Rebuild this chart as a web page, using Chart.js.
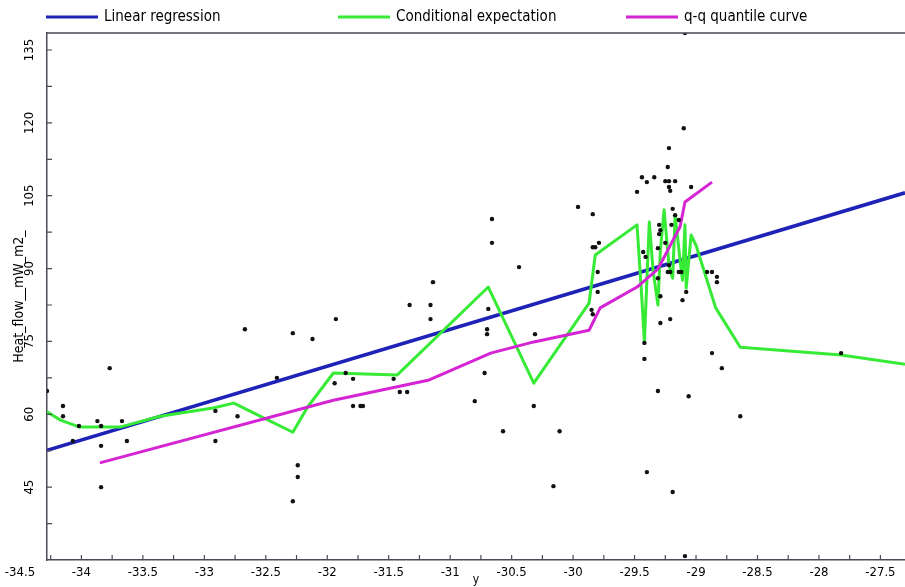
<!DOCTYPE html>
<html>
<head>
<meta charset="utf-8">
<script src="https://cdn.jsdelivr.net/npm/chart.js@4/dist/chart.umd.min.js"></script>
<style>
  html, body { margin: 0; padding: 0; background: #fff; }
  #wrap { width: 905px; height: 587px; position: relative; }
</style>
</head>
<body>
<div id="wrap"><canvas id="grafico"></canvas></div>
<script>
// tick labels
const xTickLabels = [-34.5, -34, -33.5, -33, -32.5, -32, -31.5, -31, -30.5, -30, -29.5, -29, -28.5, -28, -27.5];
const yTickLabels = [45, 60, 75, 90, 105, 120, 135];

// linear regression (end points)
const regX = [-34.28, -27.30];
const regY = [52.6, 105.6];

// conditional expectation
const condX = [-34.28, -34.17, -34.02, -33.68, -33.36, -32.93, -32.76, -32.53, -32.28, -32.16,
  -31.95, -31.43, -30.69, -30.32, -29.87, -29.82, -29.48, -29.44, -29.42, -29.39,
  -29.38, -29.35, -29.31, -29.29, -29.26, -29.22, -29.19, -29.17, -29.13, -29.11,
  -29.09, -29.08, -29.04, -29.00, -28.84, -28.64, -27.82, -27.30];
const condY = [60.5, 58.8, 57.4, 57.4, 59.6, 61.3, 62.3, 59.4, 56.3, 61.5,
  68.5, 68.1, 86.2, 66.4, 82.9, 92.8, 99.0, 83.5, 74.9, 93.8,
  99.6, 89.7, 82.5, 93.8, 102.1, 90.7, 88.0, 101.0, 91.8, 87.6,
  99.0, 86.0, 96.9, 94.8, 81.9, 73.8, 72.2, 70.3];

// q-q quantile curve
const qqX = [-33.85, -31.95, -31.18, -30.67, -30.32, -29.87, -29.78, -29.48, -29.31, -29.23, -29.13, -29.09, -28.87];
const qqY = [50.0, 62.9, 67.0, 72.6, 74.9, 77.3, 81.9, 86.2, 89.9, 93.8, 98.6, 103.7, 107.8];

// observations
const pointsX = [-34.28, -34.15, -34.15, -34.02, -34.07, -33.87, -33.84, -33.84, -33.84, -33.77,
  -33.67, -33.63, -32.91, -32.91, -32.73, -32.67, -32.41, -32.28, -32.24, -32.24,
  -32.28, -32.12, -31.93, -31.94, -31.85, -31.79, -31.79, -31.73, -31.71, -31.46,
  -31.41, -31.35, -31.33, -31.16, -31.16, -31.14, -30.80, -30.72, -30.69, -30.70,
  -30.70, -30.66, -30.66, -30.57, -30.44, -30.32, -30.31, -30.16, -30.11, -29.96,
  -29.84, -29.84, -29.82, -29.79, -29.80, -29.80, -29.85, -29.84, -29.10, -29.22,
  -29.23, -29.44, -29.40, -29.34, -29.25, -29.22, -29.17, -29.22, -29.21, -29.48,
  -29.04, -29.30, -29.29, -29.30, -29.19, -29.17, -29.14, -29.20, -29.25, -29.43,
  -29.41, -29.22, -29.23, -29.21, -29.14, -29.12, -29.08, -29.11, -29.29, -28.91,
  -28.87, -28.83, -28.83, -29.29, -29.21, -29.42, -29.42, -28.87, -28.79, -29.31,
  -29.06, -28.64, -29.40, -29.19, -27.82, -29.31, -29.31, -29.09, -29.09];
const pointsY = [64.8, 61.7, 59.6, 57.6, 54.5, 58.6, 57.6, 53.5, 45.0, 69.5,
  58.6, 54.5, 60.7, 54.5, 59.6, 77.5, 67.5, 76.7, 49.5, 47.1,
  42.1, 75.5, 79.6, 66.4, 68.5, 67.3, 61.7, 61.7, 61.7, 67.3,
  64.6, 64.6, 82.5, 82.5, 79.6, 87.2, 62.7, 68.5, 81.7, 77.5,
  76.5, 100.2, 95.3, 56.5, 90.3, 61.7, 76.5, 45.2, 56.5, 102.7,
  101.2, 94.4, 94.4, 95.3, 89.3, 85.2, 81.5, 80.6, 118.9, 114.8,
  110.9, 108.8, 107.8, 108.8, 108.0, 108.0, 108.0, 106.8, 106.0, 105.8,
  106.8, 99.0, 97.9, 97.1, 102.3, 101.0, 100.0, 99.0, 95.3, 93.4,
  92.4, 90.7, 89.3, 89.3, 89.3, 89.3, 85.2, 83.5, 84.3, 89.3,
  89.3, 88.3, 87.2, 78.8, 79.6, 74.7, 71.4, 72.6, 69.5, 64.8,
  63.7, 59.6, 48.1, 44.0, 72.6, 94.2, 88.0, 138.5, 30.8];

const fonte = "'Liberation Sans Narrow', 'DejaVu Sans Condensed', 'Arial Narrow', sans-serif";
const corEixo = '#4a4a58';

function pares(xs, ys) {
    return xs.map((x, i) => ({ x: x, y: ys[i] }));
}

// majors plus the half steps in between (and one past each end)
function comMenores(majors) {
    const passo = majors[1] - majors[0];
    const out = [majors[0] - passo / 2];
    majors.forEach((v, i) => {
        out.push(v);
        out.push(i < majors.length - 1 ? (v + majors[i + 1]) / 2 : v + passo / 2);
    });
    return out;
}

const extras = {
    id: 'extras',
    afterDraw(chart) {
        const { ctx, chartArea: a, scales: { x, y } } = chart;
        ctx.save();

        // top frame line
        ctx.strokeStyle = corEixo;
        ctx.lineWidth = 1.5;
        ctx.beginPath();
        ctx.moveTo(a.left, a.top);
        ctx.lineTo(a.right, a.top);
        ctx.stroke();

        // inward tick marks
        ctx.lineWidth = 1.2;
        ctx.beginPath();
        comMenores(xTickLabels).forEach(v => {
            const px = x.getPixelForValue(v);
            if (px < a.left + 1 || px > a.right) return;
            ctx.moveTo(px, a.bottom);
            ctx.lineTo(px, a.bottom - 5);
        });
        comMenores(yTickLabels).forEach(v => {
            const py = y.getPixelForValue(v);
            if (py < a.top || py > a.bottom - 1) return;
            ctx.moveTo(a.left, py);
            ctx.lineTo(a.left + 5, py);
        });
        ctx.stroke();

        // rotated y tick labels
        ctx.fillStyle = '#000';
        ctx.font = '13px ' + fonte;
        ctx.textAlign = 'center';
        ctx.textBaseline = 'middle';
        yTickLabels.forEach(v => {
            const py = y.getPixelForValue(v);
            ctx.save();
            ctx.translate(a.left - 17, py);
            ctx.rotate(-Math.PI / 2);
            ctx.fillText(String(v), 0, 0);
            ctx.restore();
        });

        // legend row
        const inicio = [46, 338, 626];
        ctx.font = '15px ' + fonte;
        ctx.textAlign = 'left';
        chart.data.datasets.filter(d => d.showLine).forEach((d, i) => {
            const x0 = inicio[i];
            ctx.strokeStyle = d.borderColor;
            ctx.lineWidth = 3;
            ctx.beginPath();
            ctx.moveTo(x0, 17);
            ctx.lineTo(x0 + 52, 17);
            ctx.stroke();
            ctx.fillText(d.label, x0 + 58, 17);
        });

        ctx.restore();
    }
};

function montarGrafico() {
    const ctx = document.getElementById('grafico').getContext('2d');
    new Chart(ctx, {
        type: 'scatter',
        data: {
            datasets: [
                {
                    label: 'Linear regression',
                    data: pares(regX, regY),
                    showLine: true,
                    borderColor: '#1f22b6',
                    borderWidth: 3.5,
                    pointRadius: 0,
                    order: 3
                },
                {
                    label: 'Conditional expectation',
                    data: pares(condX, condY),
                    showLine: true,
                    borderColor: '#36ea36',
                    borderWidth: 3,
                    borderJoinStyle: 'round',
                    pointRadius: 0,
                    order: 2
                },
                {
                    label: 'q-q quantile curve',
                    data: pares(qqX, qqY),
                    showLine: true,
                    borderColor: '#d424d4',
                    borderWidth: 3,
                    borderJoinStyle: 'round',
                    pointRadius: 0,
                    order: 1
                },
                {
                    label: 'Heat_flow__mW_m2_',
                    data: pares(pointsX, pointsY),
                    showLine: false,
                    backgroundColor: '#111',
                    borderWidth: 0,
                    pointRadius: 2.2,
                    order: 0
                }
            ]
        },
        options: {
            responsive: true,
            maintainAspectRatio: false,
            animation: false,
            layout: { padding: { top: 33, left: 0, right: 0, bottom: 0 }, autoPadding: false },
            plugins: {
                legend: { display: false },
                tooltip: { enabled: false }
            },
            scales: {
                x: {
                    type: 'linear',
                    min: -34.28,
                    max: -27.30,
                    grid: { display: false, drawTicks: false },
                    border: { display: true, color: corEixo, width: 1.5 },
                    afterBuildTicks: scale => {
                        scale.ticks = xTickLabels.map(v => ({ value: v }));
                    },
                    afterFit: scale => { scale.height = 27; },
                    ticks: {
                        autoSkip: false,
                        maxRotation: 0,
                        padding: 5,
                        color: '#000',
                        font: { family: fonte, size: 13 },
                        callback: v => String(v)
                    },
                    title: {
                        display: true,
                        text: 'y',
                        color: '#000',
                        padding: 0,
                        font: { family: fonte, size: 12 }
                    }
                },
                y: {
                    type: 'linear',
                    min: 30,
                    max: 138.5,
                    grid: { display: false, drawTicks: false },
                    border: { display: true, color: corEixo, width: 1.5 },
                    afterFit: scale => { scale.width = 47; },
                    ticks: { display: false },
                    title: {
                        display: true,
                        text: 'Heat_flow__mW_m2_',
                        color: '#000',
                        padding: { top: 11, bottom: 0 },
                        font: { family: fonte, size: 14 }
                    }
                }
            }
        },
        plugins: [extras]
    });
}

montarGrafico();
</script>
</body>
</html>
